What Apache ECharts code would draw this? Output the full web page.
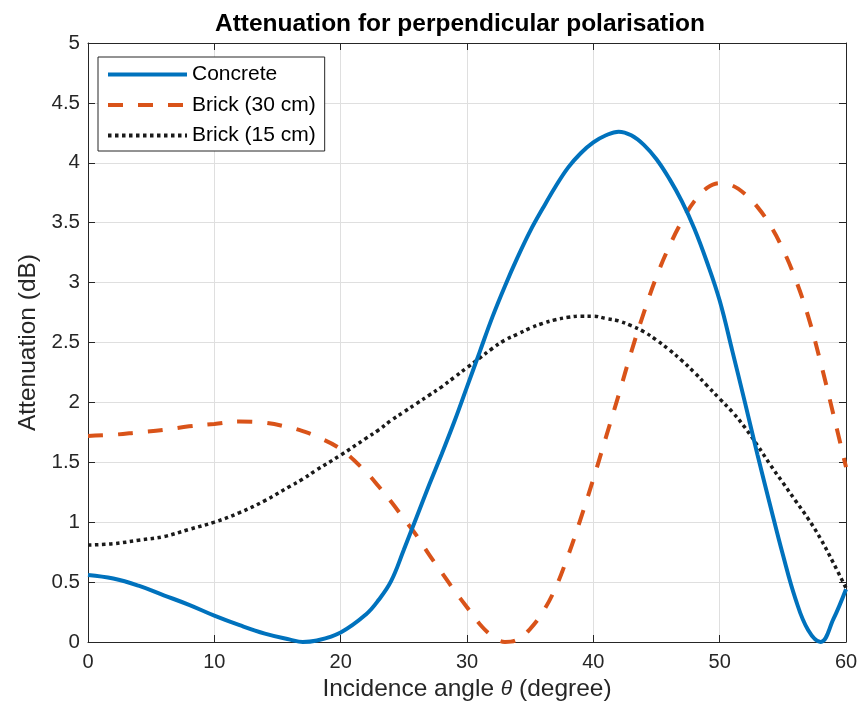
<!DOCTYPE html>
<html>
<head>
<meta charset="utf-8">
<script src="https://cdn.jsdelivr.net/npm/echarts@6/dist/echarts.min.js"></script>
<style>html,body{margin:0;padding:0;background:#fff;}#c{width:864px;height:713px;}</style>
</head>
<body>
<div id="c"></div>
<script>
var angles   = [0,2,4,6,8,10,12,14,16,17,18,20,22,23,24,25,26,27,28,29,30,31,32,33,34,35,36,37,38,39,40,41,42,43,44,45,46,47,48,49,50,51,52,53,54,55,56,57,58,59,60];
var concrete = [0.56,0.53,0.47,0.39,0.31,0.22,0.14,0.07,0.02,0.0,0.01,0.08,0.23,0.35,0.51,0.77,1.04,1.31,1.57,1.84,2.13,2.42,2.71,2.97,3.21,3.43,3.62,3.80,3.96,4.08,4.17,4.23,4.26,4.23,4.15,4.03,3.87,3.68,3.45,3.17,2.85,2.43,2.00,1.56,1.14,0.73,0.36,0.10,0.0,0.19,0.44];
var brick30  = [1.72,1.73,1.75,1.77,1.80,1.82,1.84,1.83,1.79,1.76,1.72,1.61,1.42,1.30,1.17,1.03,0.89,0.73,0.58,0.43,0.29,0.15,0.05,0.0,0.02,0.11,0.25,0.45,0.72,1.03,1.36,1.71,2.06,2.42,2.75,3.05,3.30,3.51,3.68,3.79,3.83,3.81,3.74,3.63,3.48,3.28,3.03,2.72,2.33,1.90,1.46];
var brick15  = [0.81,0.82,0.85,0.88,0.94,1.0,1.08,1.18,1.30,1.36,1.43,1.56,1.70,1.77,1.85,1.92,1.99,2.06,2.13,2.21,2.29,2.37,2.45,2.52,2.57,2.62,2.66,2.69,2.71,2.72,2.72,2.70,2.68,2.64,2.59,2.52,2.44,2.35,2.25,2.14,2.03,1.92,1.79,1.64,1.48,1.33,1.18,1.03,0.86,0.66,0.45];
var seriesNames = ['Concrete','Brick (30 cm)','Brick (15 cm)'];
var titleText = 'Attenuation for perpendicular polarisation';

function pairs(ys){ return angles.map(function(a,i){ return [a, ys[i]]; }); }

var FONT = "'Liberation Sans', Arial, Helvetica, sans-serif";
var AX = '#262626';
var chart = echarts.init(document.getElementById('c'), null, {renderer:'canvas'});
var tickCommon = {show:true, inside:true, length:7, lineStyle:{color:AX, width:1}};
chart.setOption({
  backgroundColor:'#fff',
  animation:false,
  title:{
    text:titleText, left:455, top:7, textAlign:'center',
    textStyle:{fontFamily:FONT, fontSize:24.5, fontWeight:'bold', color:'#000'}
  },
  grid:{left:88, top:43, right:18, bottom:71, containLabel:false},
  legend:{
    orient:'vertical', left:98, top:57, padding:[7,9,5,8],
    itemWidth:79, itemHeight:14, itemGap:9.5,
    backgroundColor:'#fff', borderColor:AX, borderWidth:1, borderRadius:0,
    itemStyle:{opacity:0},
    lineStyle:{width:4},
    textStyle:{fontFamily:FONT, fontSize:21, color:'#000', lineHeight:20},
    data:seriesNames
  },
  xAxis:[{
    type:'value', min:0, max:60, interval:10, position:'bottom',
    axisLine:{show:true, onZero:false, lineStyle:{color:AX, width:1}},
    axisTick:tickCommon,
    axisLabel:{fontFamily:FONT, fontSize:20, color:AX, margin:10},
    splitLine:{show:true, lineStyle:{color:'#dfdfdf', width:1}},
    name:'Incidence angle {i|θ} (degree)', nameLocation:'middle', nameGap:31,
    nameTextStyle:{fontFamily:FONT, fontSize:24.5, color:AX,
      rich:{i:{fontFamily:FONT, fontSize:21, fontStyle:'italic', color:AX}}}
  },{
    type:'value', min:0, max:60, interval:10, position:'top',
    axisLine:{show:true, onZero:false, lineStyle:{color:AX, width:1}},
    axisTick:tickCommon, axisLabel:{show:false}, splitLine:{show:false}
  }],
  yAxis:[{
    type:'value', min:0, max:5, interval:0.5, position:'left',
    axisLine:{show:true, onZero:false, lineStyle:{color:AX, width:1}},
    axisTick:tickCommon,
    axisLabel:{fontFamily:FONT, fontSize:20.5, color:AX, margin:8},
    splitLine:{show:true, lineStyle:{color:'#dfdfdf', width:1}},
    name:'Attenuation (dB)', nameLocation:'middle', nameGap:47,
    nameTextStyle:{fontFamily:FONT, fontSize:24.5, color:AX}
  },{
    type:'value', min:0, max:5, interval:0.5, position:'right',
    axisLine:{show:true, onZero:false, lineStyle:{color:AX, width:1}},
    axisTick:tickCommon, axisLabel:{show:false}, splitLine:{show:false}
  }],
  series:[{
    name:seriesNames[0], type:'line', data:pairs(concrete), smooth:0.4, symbol:'none',
    lineStyle:{color:'#0072BD', width:4}, itemStyle:{color:'#0072BD'}, z:3
  },{
    name:seriesNames[1], type:'line', data:pairs(brick30), smooth:0.4, symbol:'none',
    lineStyle:{color:'#D95319', width:4, type:[15,15], cap:'butt'}, itemStyle:{color:'#D95319'}, z:2
  },{
    name:seriesNames[2], type:'line', data:pairs(brick15), smooth:0.4, symbol:'none',
    lineStyle:{color:'#1a1a1a', width:3.5, type:[3.5,3.5]}, itemStyle:{color:'#1a1a1a'}, z:2
  }]
});
</script>
</body>
</html>
